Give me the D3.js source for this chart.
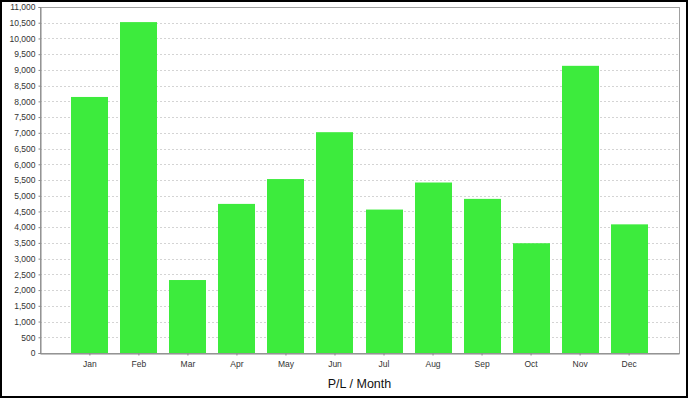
<!DOCTYPE html>
<html lang="en">
<head>
<meta charset="utf-8">
<title>P/L / Month</title>
<script src="https://cdnjs.cloudflare.com/ajax/libs/d3/7.8.5/d3.min.js"></script>
<style>
  body { margin: 0; background: #fff; }
  svg { display: block; font-family: "Liberation Sans", Arial, sans-serif; }
</style>
</head>
<body>
<div id="chart"></div>
<script>
// data
var months = ["Jan", "Feb", "Mar", "Apr", "May", "Jun", "Jul", "Aug", "Sep", "Oct", "Nov", "Dec"];
var profit = [8140, 10520, 2320, 4740, 5530, 7020, 4560, 5420, 4900, 3490, 9130, 4090];
var yTicks = [0, 500, 1000, 1500, 2000, 2500, 3000, 3500, 4000, 4500, 5000, 5500,
              6000, 6500, 7000, 7500, 8000, 8500, 9000, 9500, 10000, 10500, 11000];
var xTitle = "P/L / Month";

var w = 688, h = 398;
// plot area edges (window.top is read-only, so don't call it "top")
var plotLeft = 40, plotRight = 679, plotTop = 7, plotBottom = 353;

var svg = d3.select("#chart").append("svg")
    .attr("width", w)
    .attr("height", h);

// outer frame
svg.append("rect")
    .attr("x", 1).attr("y", 1)
    .attr("width", w - 2).attr("height", h - 2)
    .attr("fill", "#fff")
    .attr("stroke", "#000")
    .attr("stroke-width", 2);

var x = d3.scaleBand()
    .domain(months)
    .range([plotLeft, plotRight])
    .paddingInner(0.245)
    .paddingOuter(0.64);

var y = d3.scaleLinear()
    .domain([0, 11000])
    .range([plotBottom, plotTop]);

// grid lines
svg.append("g")
    .selectAll("line")
    .data(yTicks.slice(1))
    .enter()
    .append("line")
    .attr("x1", plotLeft).attr("x2", plotRight)
    .attr("y1", function(d) { return Math.round(y(d)) + 0.5; })
    .attr("y2", function(d) { return Math.round(y(d)) + 0.5; })
    .attr("stroke", "#d4d4d4")
    .attr("stroke-dasharray", "2,2");

// plot outline
svg.append("rect")
    .attr("x", plotLeft + 0.5).attr("y", plotTop + 0.5)
    .attr("width", plotRight - plotLeft).attr("height", plotBottom - plotTop)
    .attr("fill", "none")
    .attr("stroke", "#a0a0a0");

// bars
svg.append("g")
    .selectAll("rect")
    .data(profit)
    .enter()
    .append("rect")
    .attr("x", function(d, i) { return Math.round(x(months[i])); })
    .attr("y", function(d) { return y(d); })
    .attr("width", Math.round(x.bandwidth()))
    .attr("height", function(d) { return plotBottom - y(d); })
    .attr("fill", "#3deb3d");

// y axis
var yAxis = svg.append("g")
    .attr("transform", "translate(" + (plotLeft + 0.5) + ",0)")
    .call(d3.axisLeft(y).tickValues(yTicks).tickSize(2).tickPadding(3)
        .tickFormat(d3.format(",")));
yAxis.select(".domain").attr("stroke", "#888");
yAxis.selectAll(".tick line").attr("stroke", "#888");
yAxis.selectAll("text")
    .attr("font-size", "8.5px")
    .attr("font-family", "Liberation Sans, Arial, sans-serif")
    .attr("fill", "#333");

// x axis
var xAxis = svg.append("g")
    .attr("transform", "translate(0," + (plotBottom + 0.5) + ")")
    .call(d3.axisBottom(x).tickSize(2).tickPadding(5).tickSizeOuter(0));
xAxis.select(".domain").attr("stroke", "#888");
xAxis.selectAll(".tick line").attr("stroke", "#888");
xAxis.selectAll("text")
    .attr("font-size", "8.5px")
    .attr("font-family", "Liberation Sans, Arial, sans-serif")
    .attr("fill", "#333");

// axis title
svg.append("text")
    .attr("x", (plotLeft + plotRight) / 2)
    .attr("y", 388)
    .attr("text-anchor", "middle")
    .attr("font-size", "12.5px")
    .attr("fill", "#111")
    .text(xTitle);
</script>
</body>
</html>
